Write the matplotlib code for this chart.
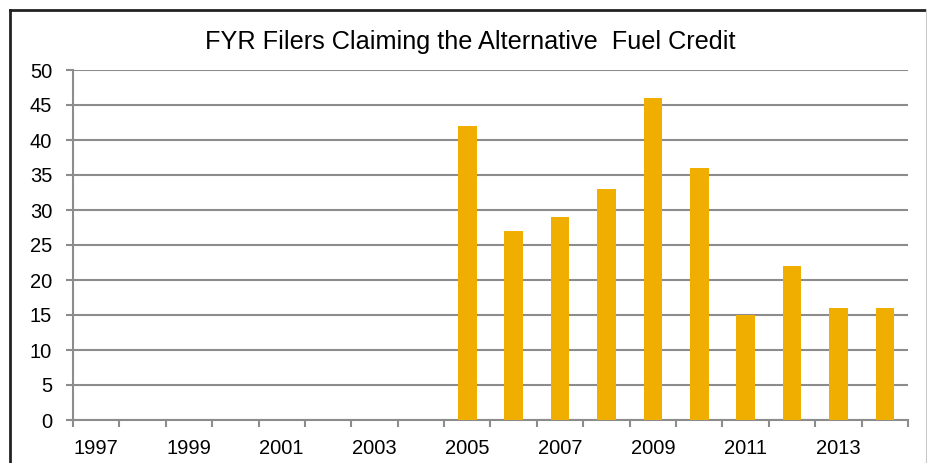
import numpy as np
import matplotlib.pyplot as plt
from matplotlib.lines import Line2D

plt.rcParams['font.family'] = ['Liberation Sans', 'DejaVu Sans']

years = list(range(1997, 2015))
filers = [0, 0, 0, 0, 0, 0, 0, 0, 42, 27, 29, 33, 46, 36, 15, 22, 16, 16]
title = 'FYR Filers Claiming the Alternative  Fuel Credit'

fig = plt.figure(figsize=(9.28, 4.63), dpi=100)
ax = fig.add_axes([73 / 928, 1 - 420 / 463, (908 - 73) / 928, (420 - 70) / 463])

x = np.arange(len(years))
ax.bar(x, filers, width=0.4, color='#EFAE00', zorder=3)

ax.set_ylim(0, 50)
ax.set_yticks(range(0, 51, 5))
ax.set_xlim(-0.5, len(years) - 0.5)
ax.set_xticks(x[::2])
ax.set_xticklabels([str(y) for y in years[::2]])
ax.set_xticks(np.arange(-0.5, len(years)), minor=True)

grid_col = '#8C8C8C'
ax.yaxis.grid(True, color=grid_col, linewidth=1.5, zorder=0)
for s in ['top', 'right']:
    ax.spines[s].set_visible(False)
for s in ['left', 'bottom']:
    ax.spines[s].set_color(grid_col)
    ax.spines[s].set_linewidth(1.5)

ax.tick_params(axis='y', length=5, width=1.5, color=grid_col, labelsize=14.5, pad=10)
ax.tick_params(axis='x', which='major', length=0, labelsize=14.5, pad=14)
ax.tick_params(axis='x', which='minor', length=5, width=1.5, color=grid_col)

fig.text(470 / 928, 1 - 42 / 463, title, ha='center', va='center', fontsize=18.2)

# chart frame
fig.add_artist(Line2D([10 / 928, 10 / 928], [0, 1 - 10 / 463], color='#222222', lw=2))
fig.add_artist(Line2D([10 / 928, 927 / 928], [1 - 10 / 463, 1 - 10 / 463], color='#222222', lw=2))
fig.add_artist(Line2D([927 / 928, 927 / 928], [0, 1 - 10 / 463], color='#C8C8C8', lw=1.5))

fig.savefig('out.png', dpi=100)
